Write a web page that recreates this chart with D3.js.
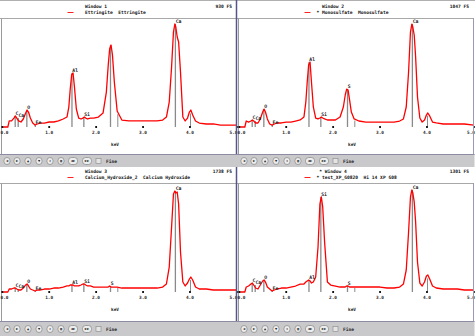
<!DOCTYPE html>
<html><head><meta charset="utf-8">
<script src="https://cdn.jsdelivr.net/npm/d3@7"></script>
<style>
html,body{margin:0;padding:0;background:#fff;}
svg{display:block;}
text{font-family:"DejaVu Sans Mono",monospace;font-weight:bold;white-space:pre;}
</style></head><body>
<svg id="c" width="475" height="336"></svg>
<script>
// ---- data (keV vs counts) ----
const energies = [0.00,0.12,0.15,0.20,0.25,0.28,0.31,0.35,0.40,0.45,0.50,0.53,0.56,0.60,0.65,0.70,0.75,0.80,0.90,1.00,1.10,1.20,1.30,1.38,1.42,1.45,1.48,1.51,1.54,1.58,1.63,1.68,1.72,1.75,1.78,1.82,1.88,1.95,2.05,2.15,2.22,2.26,2.29,2.32,2.35,2.39,2.45,2.55,2.70,2.85,3.00,3.15,3.30,3.42,3.50,3.56,3.61,3.65,3.68,3.70,3.73,3.76,3.80,3.85,3.90,3.95,3.99,4.02,4.06,4.12,4.20,4.35,4.50,4.65,4.80,5.00];
const ettringite = [0,0,52,52,77,95,77,52,43,69,121,146,129,77,34,17,26,34,34,43,43,52,69,86,172,327,448,465,344,155,77,69,77,86,77,69,77,77,86,121,301,534,672,706,620,387,138,60,52,52,52,52,52,60,86,215,517,818,887,861,775,732,474,86,52,77,129,146,103,52,34,26,26,17,17,17];
const monosulfate = [0,0,58,48,58,68,58,39,39,78,145,174,145,78,29,19,29,39,39,48,48,58,68,97,242,436,601,630,436,194,87,78,87,97,87,78,68,68,68,97,194,310,368,359,271,145,78,58,48,48,48,48,48,58,78,194,533,921,998,969,892,678,291,87,48,68,116,136,107,48,39,29,29,29,29,19];
const calciumHydroxide = [0,0,48,48,64,64,48,32,32,64,113,129,97,48,32,16,32,32,48,48,64,64,80,97,97,113,113,113,97,97,97,113,129,129,113,97,97,80,80,80,80,80,97,80,80,80,80,64,64,64,64,64,64,80,129,402,1046,1577,1625,1593,1609,1416,644,161,97,145,209,241,193,80,48,48,32,32,32,32];
const testSample = [0,0,60,72,96,108,84,48,36,84,133,145,120,60,36,12,24,36,48,48,60,72,96,96,120,133,145,133,108,120,181,542,1060,1145,1024,602,120,84,72,60,60,60,72,72,60,60,60,60,60,60,60,48,48,60,96,265,723,1145,1229,1193,1085,844,362,108,72,120,193,205,157,72,48,36,36,36,24,24];
const spectra = [ettringite, monosulfate, calciumHydroxide, testSample];

const windowTitles = ["Window 1", "Window 2", "Window 3", "* Window 4"];
const legendLabels = ["Ettringite  Ettringite", "* Monosulfate  Monosulfate", "Calcium_Hydroxide_2  Calcium Hydroxide", "* test_XP_G0820  Hi 14 XP G08"];
const fullScale = [930, 1047, 1738, 1301];
const fsLabels = ["930 FS", "1047 FS", "1738 FS", "1301 FS"];
const tickValues = [0, 1, 2, 3, 4, 5];
const tickLabels = ["0.0", "1.0", "2.0", "3.0", "4.0", "5.0"];
const axisTitle = "keV";
const lineElements = ["C", "Ca", "O", "Fe", "Al", "Si", "S", "Ca"];
const lineEnergies = [0.277, 0.341, 0.525, 0.705, 1.487, 1.740, 2.308, 3.691];
const showLabel = [
  [1,1,1,1,1,1,0,1],
  [1,1,1,1,1,1,1,1],
  [1,1,1,1,1,1,1,1],
  [1,1,1,1,1,1,1,1]
];
const minorLineEnergies = [2.464, 4.013];
const toolbarIcons = ["\u25C0", "\u25B6", "\u25B2", "\u25BC", "\u21D5", "\u25A3", "\u25C0\u25B6", "\u25B6\u25B6"];
const fineLabel = "Fine";

// ---- layout ----
const svg = d3.select("#c");
svg.append("rect").attr("width", 475).attr("height", 336).attr("fill", "#fff");
const panelPos = [{x:0, y:0, w:236.5}, {x:237, y:0, w:237}, {x:0, y:165, w:236.5}, {x:237, y:165, w:237}];
const toolbarTop = [154, 154, 321, 321];
const toolbarBottom = [167, 167, 336, 336];

panelPos.forEach((p, i) => {
  const g = svg.append("g").attr("transform", `translate(${p.x},${p.y})`);
  const data = energies.map((e, k) => ({e, v: spectra[i][k]}));
  const x = d3.scaleLinear().domain([0, 5]).range([2.2, 236.8]);
  const y = d3.scaleLinear().domain([0, fullScale[i]]).range([127, 19]);

  // header
  g.append("line").attr("x1", 0).attr("x2", p.w).attr("y1", 18.5).attr("y2", 18.5).attr("stroke", "#a8a8a8").attr("stroke-width", 1);
  g.append("text").attr("x", 96).attr("y", 8).attr("text-anchor", "middle").attr("font-size", 4.6).attr("fill", "#111").text(windowTitles[i]);
  g.append("line").attr("x1", 67.5).attr("x2", 73.5).attr("y1", 12.5).attr("y2", 12.5).attr("stroke", "#ff2020").attr("stroke-width", 1);
  const lx = legendLabels[i].startsWith("*") ? 79.5 : 85;
  g.append("text").attr("x", lx).attr("y", 14).attr("font-size", 4.6).attr("fill", "#111").text(legendLabels[i]);
  g.append("text").attr("x", 232).attr("y", 8).attr("text-anchor", "end").attr("font-size", 4.6).attr("fill", "#111").text(fsLabels[i]);

  // left axis line
  g.append("line").attr("x1", 1.5).attr("x2", 1.5).attr("y1", 18.5).attr("y2", toolbarTop[i] - p.y).attr("stroke", "#9a9a9a").attr("stroke-width", 1);

  const clip = "clip" + i;
  g.append("clipPath").attr("id", clip).append("rect").attr("x", 0).attr("y", 19).attr("width", p.w - 0.5).attr("height", 115);
  const plot = g.append("g").attr("clip-path", `url(#${clip})`);

  const localMax = (E, w) => d3.max(data.filter(d => Math.abs(d.e - E) <= w), d => d.v) || 0;

  // element marker lines
  lineEnergies.forEach((E, k) => {
    const v = localMax(E, 0.035);
    plot.append("line").attr("x1", x(E)).attr("x2", x(E)).attr("y1", y(0)).attr("y2", y(v))
      .attr("stroke", "#8a8a8a").attr("stroke-width", 1.3);
  });
  minorLineEnergies.forEach(E => {
    const v = localMax(E, 0.03) * 0.8;
    plot.append("line").attr("x1", x(E)).attr("x2", x(E)).attr("y1", y(0)).attr("y2", y(v))
      .attr("stroke", "#8a8a8a").attr("stroke-width", 1);
  });

  // spectrum
  plot.append("path").datum(data)
    .attr("d", d3.line().x(d => x(d.e)).y(d => y(d.v)))
    .attr("fill", "none").attr("stroke", "#ff0000").attr("stroke-width", 1.3).attr("stroke-linejoin", "round");

  // element labels
  lineEnergies.forEach((E, k) => {
    if (!showLabel[i][k]) return;
    const v = localMax(E, 0.035);
    g.append("text").attr("x", x(E) + 0.3).attr("y", y(v) - 1).attr("font-size", 4.8).attr("fill", "#222").text(lineElements[k]);
  });

  // ticks
  tickValues.forEach((t, k) => {
    g.append("rect").attr("x", x(t) - 0.8).attr("y", 126).attr("width", 1.8).attr("height", 2).attr("fill", "#111");
    const tx = Math.min(Math.max(x(t), 4.5), p.w - 3);
    g.append("text").attr("x", tx).attr("y", 134).attr("text-anchor", "middle").attr("font-size", 4.4).attr("fill", "#222").text(tickLabels[k]);
  });
  g.append("text").attr("x", 115).attr("y", 145.5).attr("text-anchor", "middle").attr("font-size", 4.4).attr("fill", "#222").text(axisTitle);

  // toolbar
  const ty = toolbarTop[i], tb = toolbarBottom[i];
  const tg = svg.append("g").attr("transform", `translate(${p.x},0)`);
  tg.append("rect").attr("x", 0).attr("y", ty).attr("width", p.w + 0.5).attr("height", tb - ty).attr("fill", "#c9c9cc");
  tg.append("line").attr("x1", 0).attr("x2", p.w + 0.5).attr("y1", ty + 0.5).attr("y2", ty + 0.5).attr("stroke", "#8c8ca4").attr("stroke-width", 1);
  const cy = (ty + tb) / 2 + 0.5;
  const bx = [7, 17, 28, 39, 50, 61, 73, 87];
  const bw = [6, 6, 6, 6, 6, 6, 9, 9];
  toolbarIcons.forEach((ic, k) => {
    tg.append("rect").attr("x", bx[k] - bw[k] / 2).attr("y", cy - 3.5).attr("width", bw[k]).attr("height", 7).attr("rx", 3).attr("ry", 3)
      .attr("fill", "#ececec").attr("stroke", "#777").attr("stroke-width", 0.6);
    tg.append("text").attr("x", bx[k]).attr("y", cy + 1.3).attr("text-anchor", "middle").attr("font-size", 3.6).attr("fill", "#222")
      .attr("font-family", "DejaVu Sans").text(ic);
  });
  tg.append("rect").attr("x", 96).attr("y", cy - 2.5).attr("width", 5).attr("height", 5).attr("fill", "#e4e4e4").attr("stroke", "#888").attr("stroke-width", 0.6);
  tg.append("text").attr("x", 106).attr("y", cy + 1.5).attr("font-size", 4.6).attr("fill", "#222").attr("font-weight", "normal").text(fineLabel);
});

// frame lines
svg.append("line").attr("x1", 0).attr("x2", 475).attr("y1", 0.5).attr("y2", 0.5).attr("stroke", "#b0b0b0");
svg.append("line").attr("x1", 236.5).attr("x2", 236.5).attr("y1", 0).attr("y2", 154).attr("stroke", "#55558a").attr("stroke-width", 1.5);
svg.append("line").attr("x1", 236.5).attr("x2", 236.5).attr("y1", 167).attr("y2", 321).attr("stroke", "#55558a").attr("stroke-width", 1.5);
svg.append("line").attr("x1", 473.5).attr("x2", 473.5).attr("y1", 18).attr("y2", 154).attr("stroke", "#9a9ab4").attr("stroke-width", 1);
svg.append("line").attr("x1", 473.5).attr("x2", 473.5).attr("y1", 183).attr("y2", 321).attr("stroke", "#9a9ab4").attr("stroke-width", 1);
</script>
</body></html>
